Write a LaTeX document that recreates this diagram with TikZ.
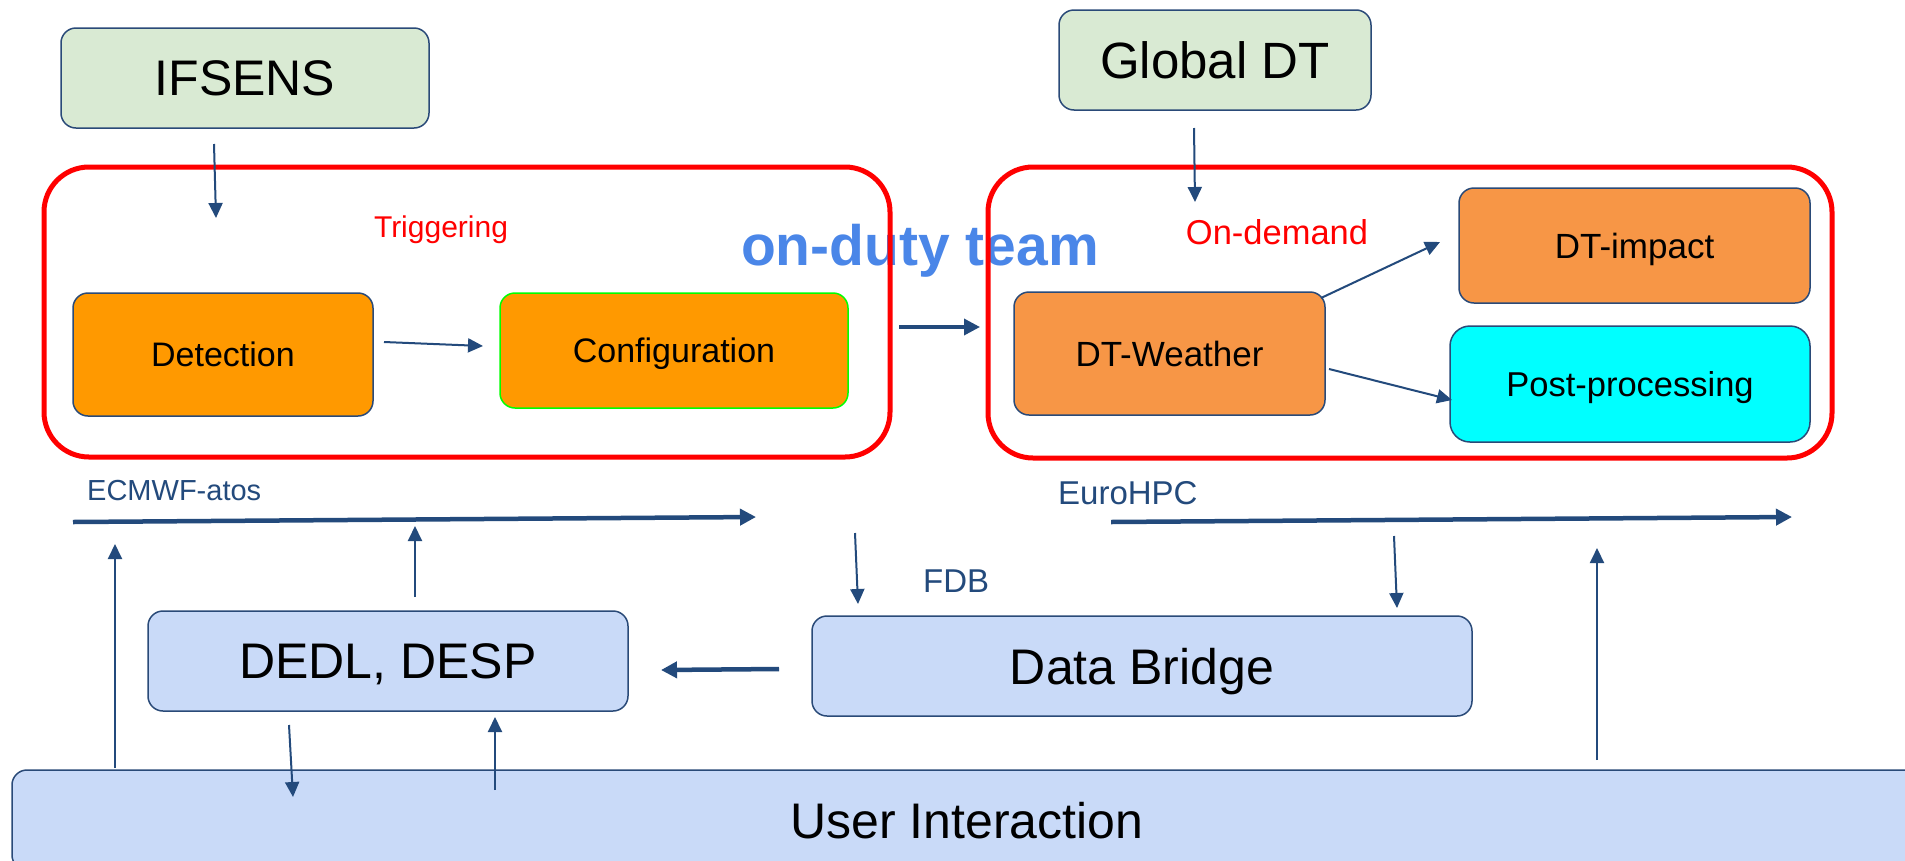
\documentclass[tikz,border=0pt]{standalone}
\usepackage{fontspec}
\setmainfont{Liberation Sans}
\usetikzlibrary{arrows.meta}
\definecolor{lgreen}{HTML}{D9EAD3}
\definecolor{lblue}{HTML}{C9DAF8}
\definecolor{bordblue}{HTML}{2A4A78}
\definecolor{arrblue}{HTML}{234A7C}
\definecolor{orangeA}{HTML}{FF9900}
\definecolor{orangeB}{HTML}{F79646}
\definecolor{cyanA}{HTML}{00FFFF}
\definecolor{redA}{HTML}{FF0000}
\definecolor{teamblue}{HTML}{4A86E8}
\definecolor{greenA}{HTML}{00FF00}
\newcommand{\fsz}[1]{\fontsize{#1}{#1}\selectfont}
\begin{document}
\begin{tikzpicture}[x=1pt,y=-1pt,
  box/.style={draw=bordblue, line width=1.5pt, rounded corners=15pt, inner sep=0pt, align=center, text=black, text depth=0pt},
  grp/.style={draw=redA, line width=5pt, rounded corners=45pt, inner sep=0pt},
  arr/.style={draw=arrblue, line width=2pt, -{Triangle[length=15pt,width=14pt]}},
  thickarr/.style={draw=arrblue, line width=4.5pt, -{Triangle[length=16pt,width=16pt]}},
  lbl/.style={inner sep=0pt, text=arrblue, anchor=west},
  redlbl/.style={inner sep=0pt, text=redA}]
\useasboundingbox (0,0) rectangle (1905,860);
\fill[white] (0,0) rectangle (1905,860);

% on-duty team text (under the red frames)
\node[inner sep=0pt, text=teamblue, font=\bfseries\fsz{57}] (team) at (920,251) {on-duty team};

% red group frames
\node[grp, minimum width=846, minimum height=290] (trig) at (467,312) {};
\node[grp, minimum width=844, minimum height=291] (demand) at (1410,312.5) {};

% top boxes
\node[box, fill=lgreen, minimum width=368, minimum height=100] (ifsens) at (245,78) {\fsz{50}IFSENS};
\node[box, fill=lgreen, minimum width=312, minimum height=100] (globaldt) at (1215,60) {\fsz{51}Global DT};

% inner boxes
\node[box, fill=orangeA, minimum width=300, minimum height=123] (detect) at (223,354.5) {\fsz{34}Detection};
\node[box, draw=greenA, fill=orangeA, minimum width=348, minimum height=115] (config) at (674,350.5) {\fsz{34}Configuration};
\node[box, fill=orangeB, minimum width=351, minimum height=115] (dtimpact) at (1634.5,245.5) {\fsz{35}DT-impact};
\node[box, fill=orangeB, minimum width=311, minimum height=123] (dtweather) at (1169.5,353.5) {\fsz{35}DT-Weather};
\node[box, fill=cyanA, minimum width=360, minimum height=116, rounded corners=20pt] (postproc) at (1630,384) {\fsz{34.5}Post-processing};

% lower boxes
\node[box, fill=lblue, minimum width=480, minimum height=100] (dedl) at (388,661) {\fsz{50}DEDL, DESP};
\node[box, fill=lblue, minimum width=660, minimum height=100] (databridge) at (1142,666) {\fsz{50}Data Bridge};
\node[box, fill=lblue, minimum width=1910, minimum height=100] (user) at (967,820) {\fsz{50}User Interaction};

% labels
\node[redlbl, font=\fsz{30}] (trigtxt) at (441,230) {Triggering};
\node[redlbl, font=\fsz{34.5}] (demandtxt) at (1277,232) {On-demand};
\node[lbl, font=\fsz{29}] (ecmwf) at (87,491) {ECMWF-atos};
\node[lbl, font=\fsz{33}] (eurohpc) at (1058,493) {EuroHPC};
\node[lbl, font=\fsz{33}] (fdb) at (923,581) {FDB};

% coordinates for connector ends
\coordinate (i1) at (214,144);   \coordinate (i2) at (216,218);
\coordinate (g1) at (1194,128);  \coordinate (g2) at (1195,202);
\coordinate (d1) at (384,342);   \coordinate (d2) at (483,346);
\coordinate (c1) at (899,327);   \coordinate (c2) at (980,327);
\coordinate (w1) at (1321,298);  \coordinate (w2) at (1440,242);
\coordinate (w3) at (1329,369);  \coordinate (w4) at (1452,400);
\coordinate (e1) at (73,522);    \coordinate (e2) at (756,517);
\coordinate (h1) at (1111,522);  \coordinate (h2) at (1792,517);
\coordinate (u1) at (115,768);   \coordinate (u2) at (115,544);
\coordinate (p1) at (415,597);   \coordinate (p2) at (415,526);
\coordinate (f1) at (855,533);   \coordinate (f2) at (858,604);
\coordinate (b1) at (779,669);   \coordinate (b2) at (661,670);
\coordinate (q1) at (289,725);   \coordinate (q2) at (293,797);
\coordinate (r1) at (495,790);   \coordinate (r2) at (495,717);
\coordinate (s1) at (1394,536);  \coordinate (s2) at (1397,608);
\coordinate (t1) at (1597,760);  \coordinate (t2) at (1597,548);

% connectors
\draw[arr] (i1) -- (i2);
\draw[arr] (g1) -- (g2);
\draw[arr] (d1) -- (d2);
\draw[thickarr, line width=3.5pt] (c1) -- (c2);
\draw[arr] (w1) -- (w2);
\draw[arr] (w3) -- (w4);
\draw[thickarr] (e1) -- (e2);
\draw[thickarr] (h1) -- (h2);
\draw[arr] (u1) -- (u2);
\draw[arr] (p1) -- (p2);
\draw[arr] (f1) -- (f2);
\draw[thickarr] (b1) -- (b2);
\draw[arr] (q1) -- (q2);
\draw[arr] (r1) -- (r2);
\draw[arr] (s1) -- (s2);
\draw[arr] (t1) -- (t2);
\end{tikzpicture}
\end{document}
